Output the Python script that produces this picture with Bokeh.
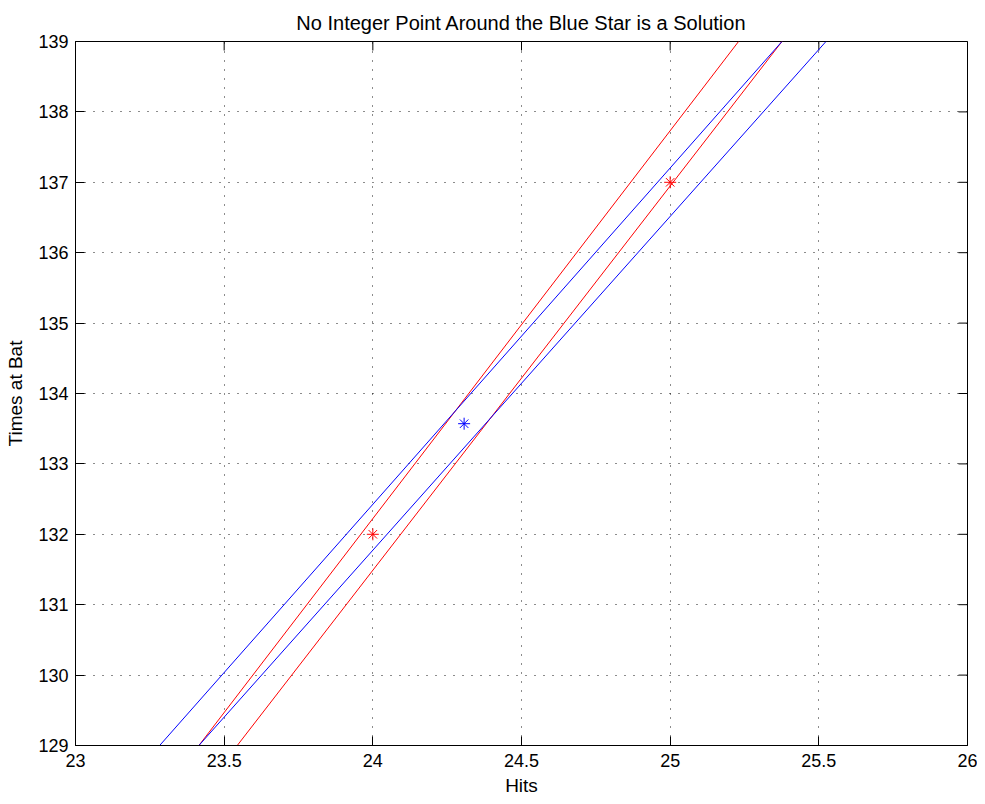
import math
from bokeh.plotting import figure
from bokeh.models import FixedTicker, Range1d
from bokeh.embed import file_html
from bokeh.resources import INLINE

# ---- data ----
x_ticks = [23, 23.5, 24, 24.5, 25, 25.5, 26]
y_ticks = [129, 130, 131, 132, 133, 134, 135, 136, 137, 138, 139]

# line end points: hits at 129 and at 139 times at bat
line_y_low = 129
line_y_high = 139
red_x_low = [23.415, 23.544]
red_x_high = [25.230, 25.376]
blue_x_low = [23.283, 23.415]
blue_x_high = [25.376, 25.524]

# stars
red_star_hits = [24, 25]
red_star_ab = [132, 137]
blue_star_hits = [24.307]
blue_star_ab = [133.571]

FONT = "Liberation Sans"

p = figure(frame_width=892, frame_height=704, output_backend="svg", toolbar_location=None,
           x_range=Range1d(23, 26), y_range=Range1d(129, 139),
           title="No Integer Point Around the Blue Star is a Solution",
           x_axis_label="Hits", y_axis_label="Times at Bat",
           min_border_left=75, min_border_right=10, min_border_top=41, min_border_bottom=52)

p.title.align = "center"
p.title.text_font = FONT
p.title.text_font_size = "20px"
p.title.text_font_style = "normal"
p.title.text_color = "black"
p.title.standoff = 16

p.outline_line_color = "black"
p.outline_line_width = 1
p.background_fill_color = "white"
p.border_fill_color = "white"

for ax, ticks in ((p.xaxis[0], x_ticks), (p.yaxis[0], y_ticks)):
    ax.ticker = FixedTicker(ticks=ticks)
    ax.major_tick_in = 9
    ax.major_tick_out = 0
    ax.minor_tick_line_color = None
    ax.axis_line_color = "black"
    ax.major_tick_line_color = "black"
    ax.major_label_text_font = FONT
    ax.major_label_text_font_size = "18px"
    ax.major_label_text_color = "black"
    ax.axis_label_text_font = FONT
    ax.axis_label_text_font_size = "19px"
    ax.axis_label_text_font_style = "normal"
    ax.axis_label_text_color = "black"

p.xaxis[0].major_label_standoff = 8
p.xaxis[0].axis_label_standoff = 5
p.yaxis[0].major_label_standoff = 7
p.yaxis[0].axis_label_standoff = 9
p.yaxis[0].major_label_orientation = "horizontal"

for g, ticks in ((p.xgrid[0], x_ticks), (p.ygrid[0], y_ticks)):
    g.ticker = FixedTicker(ticks=ticks)
    g.grid_line_color = "black"
    g.grid_line_dash = "1 8"
    g.grid_line_width = 1
    g.grid_line_alpha = 0.9

# inward ticks on the top and right edges (markers clipped by the frame)
p.scatter(x_ticks, [y_ticks[-1]] * len(x_ticks), marker="dash", size=18, angle=math.pi / 2,
          line_color="black", line_width=1)
p.scatter([x_ticks[-1]] * len(y_ticks), y_ticks, marker="dash", size=18,
          line_color="black", line_width=1)

n_red = len(red_x_low)
p.segment(x0=red_x_low, y0=[line_y_low] * n_red, x1=red_x_high, y1=[line_y_high] * n_red,
          line_color="#ff0000", line_width=1)
n_blue = len(blue_x_low)
p.segment(x0=blue_x_low, y0=[line_y_low] * n_blue, x1=blue_x_high, y1=[line_y_high] * n_blue,
          line_color="#0000ff", line_width=1)

p.scatter(red_star_hits, red_star_ab, marker="asterisk", size=12, line_color="#ff0000", line_width=1)
p.scatter(blue_star_hits, blue_star_ab, marker="asterisk", size=12, line_color="#0000ff", line_width=1)

open("out.html", "w").write(file_html(p, INLINE))
